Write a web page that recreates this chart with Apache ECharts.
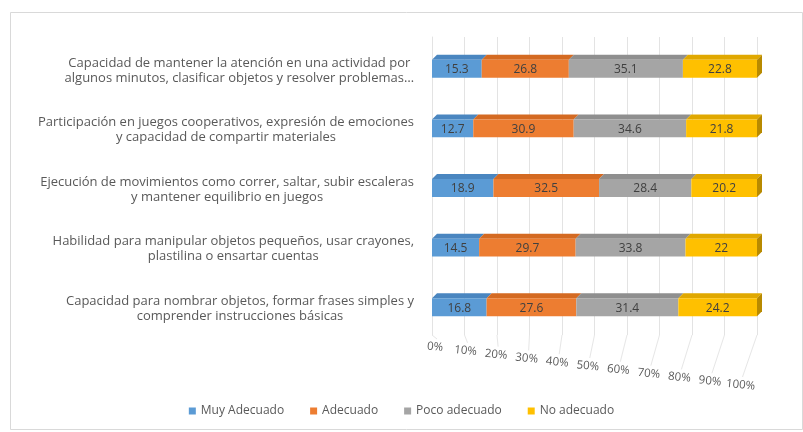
<!DOCTYPE html>
<html>
<head>
<meta charset="utf-8">
<script src="https://cdn.jsdelivr.net/npm/echarts@6/dist/echarts.min.js"></script>
<style>
html,body{margin:0;padding:0;background:#fff;}
#chart{width:803px;height:432px;}
</style>
</head>
<body>
<div id="chart"></div>
<script>
const categories = [
  'Capacidad de mantener la atención en una actividad por\nalgunos minutos, clasificar objetos y resolver problemas…',
  'Participación en juegos cooperativos, expresión de emociones\ny capacidad de compartir materiales',
  'Ejecución de movimientos como correr, saltar, subir escaleras\ny mantener equilibrio en juegos',
  'Habilidad para manipular objetos pequeños, usar crayones,\nplastilina o ensartar cuentas',
  'Capacidad para nombrar objetos, formar frases simples y\ncomprender instrucciones básicas'
];
const seriesNames = ['Muy Adecuado', 'Adecuado', 'Poco adecuado', 'No adecuado'];
const muyAdecuado = [15.3, 12.7, 18.9, 14.5, 16.8];
const adecuado = [26.8, 30.9, 32.5, 29.7, 27.6];
const pocoAdecuado = [35.1, 34.6, 28.4, 33.8, 31.4];
const noAdecuado = [22.8, 21.8, 20.2, 22, 24.2];
const tickValues = [0, 10, 20, 30, 40, 50, 60, 70, 80, 90, 100];
const tickLabels = ['0%', '10%', '20%', '30%', '40%', '50%', '60%', '70%', '80%', '90%', '100%'];

const colors = ['#5B9BD5', '#ED7D31', '#A5A5A5', '#FFC000'];
const topColors = ['#4A86C0', '#D46A22', '#8F8F8F', '#E0A800'];
const sideColors = ['#3D6E9E', '#B0561A', '#777777', '#B88A00'];
const FONT = '"Open Sans", "Liberation Sans", sans-serif';

const allValues = [muyAdecuado, adecuado, pocoAdecuado, noAdecuado];
const cumulative = categories.map(() => 0);
const barSeries = allValues.map((vals, si) => {
  const data = vals.map((v, ci) => {
    const s = cumulative[ci];
    cumulative[ci] += v;
    return [s, s + v, ci, v];
  });
  const isLast = si === allValues.length - 1;
  return {
    name: seriesNames[si],
    type: 'custom',
    coordinateSystem: 'cartesian2d',
    itemStyle: { color: colors[si] },
    encode: { x: [0, 1], y: 2 },
    data: data,
    z: 3,
    renderItem: function (params, api) {
      const s = api.value(0), e = api.value(1), c = api.value(2), v = api.value(3);
      const p0 = api.coord([s, c]);
      const p1 = api.coord([e, c]);
      const bh = api.size([0, 1])[1] * 0.3;
      const d = 5;
      const x0 = p0[0], x1 = p1[0];
      const yt = p0[1] - bh / 2 + 2, yb = p0[1] + bh / 2 + 2;
      const children = [
        { type: 'polygon', shape: { points: [[x0, yt], [x1, yt], [x1 + d, yt - d], [x0 + d, yt - d]] }, style: { fill: topColors[si] } },
        { type: 'rect', shape: { x: x0, y: yt, width: x1 - x0, height: yb - yt }, style: { fill: colors[si] } }
      ];
      if (isLast) {
        children.push({ type: 'polygon', shape: { points: [[x1, yt], [x1 + d, yt - d], [x1 + d, yb - d], [x1, yb]] }, style: { fill: sideColors[si] } });
      }
      children.push({
        type: 'text',
        style: {
          text: String(v), x: (x0 + x1) / 2, y: (yt + yb) / 2 + 1,
          align: 'center', verticalAlign: 'middle',
          fill: '#404040', font: '12px ' + FONT
        }
      });
      return { type: 'group', children: children };
    }
  };
});

const tickSeries = {
  name: 'ticks',
  type: 'custom',
  coordinateSystem: 'cartesian2d',
  encode: { x: 0, y: 1 },
  data: tickValues.map((v, i) => [v, 0, i]),
  silent: true,
  z: 1,
  renderItem: function (params, api) {
    const v = api.value(0), i = api.value(2);
    const cs = params.coordSys;
    const xg = api.coord([v, 0])[0];
    const yb = cs.y + cs.height;
    const lx = cs.x + cs.width * 0.94 * v / 100 + 3;
    const ly = yb + 12 + v * 0.38;
    return {
      type: 'group',
      children: [
        { type: 'line', shape: { x1: xg, y1: yb, x2: lx + 2, y2: ly - 8 }, style: { stroke: '#e6e6e6', lineWidth: 1 } },
        { type: 'text', x: lx, y: ly, rotation: -0.1,
          style: { text: tickLabels[i], x: 0, y: 0, align: 'center', verticalAlign: 'middle', fill: '#595959', font: '11.5px ' + FONT } }
      ]
    };
  }
};

const chart = echarts.init(document.getElementById('chart'));
chart.setOption({
  animation: false,
  backgroundColor: '#ffffff',
  graphic: [{
    type: 'rect', left: 8, top: 10, shape: { width: 792, height: 417 },
    style: { fill: 'none', stroke: '#d9d9d9', lineWidth: 1 }, z: -10
  }],
  legend: {
    data: seriesNames,
    bottom: 10,
    left: 'center',
    icon: 'rect',
    itemWidth: 7,
    itemHeight: 7,
    itemGap: 26,
    textStyle: { color: '#595959', fontSize: 12, fontFamily: FONT }
  },
  grid: { left: 432, right: 46, top: 37, bottom: 97, containLabel: false },
  xAxis: {
    type: 'value', min: 0, max: 100, interval: 10,
    axisLabel: { show: false },
    axisLine: { show: false },
    axisTick: { show: false },
    splitLine: { lineStyle: { color: '#e3e3e3' } }
  },
  yAxis: {
    type: 'category', data: categories, inverse: true,
    axisLine: { show: true, lineStyle: { color: '#e3e3e3' } },
    axisTick: { show: false },
    axisLabel: {
      margin: 18,
      align: 'right',
      padding: [7, 0, 0, 0],
      formatter: function (val) { return val.split('\n').map(l => '{a|' + l + '}').join('\n'); },
      rich: { a: { align: 'center', color: '#595959', fontSize: 13, lineHeight: 15, fontFamily: FONT } }
    }
  },
  series: barSeries.concat([tickSeries])
});
</script>
</body>
</html>
